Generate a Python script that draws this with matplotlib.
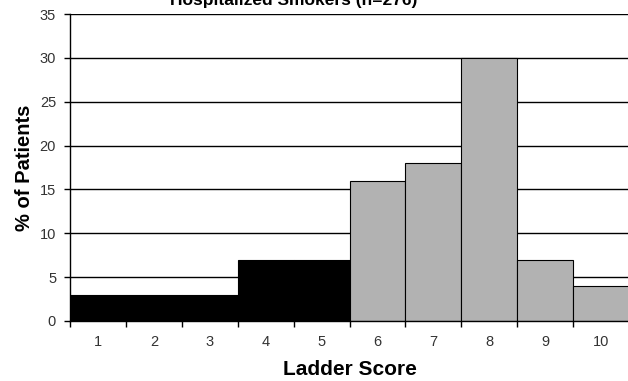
import matplotlib
matplotlib.use("Agg")
import matplotlib.pyplot as plt

# ----------------------------
# Data
# ----------------------------
scores = [1, 2, 3, 4, 5, 6, 7, 8, 9, 10]
pct_patients = [3, 3, 3, 7, 7, 16, 18, 30, 7, 4]
bar_colors = ["black"] * 5 + ["#b2b2b2"] * 5
y_ticks = [0, 5, 10, 15, 20, 25, 30, 35]

plt.rcParams["font.family"] = ["Liberation Sans", "DejaVu Sans"]

fig = plt.figure(figsize=(6.28, 3.81), dpi=100)
ax = fig.add_axes([70 / 628, 60 / 381, 559 / 628, 307 / 381])

# gridlines behind bars
ax.set_axisbelow(True)
ax.yaxis.grid(True, color="black", linewidth=1)

ax.bar(scores, pct_patients, width=1.0, color=bar_colors,
       edgecolor="black", linewidth=0.8, zorder=2)

ax.set_xlim(0.5, 10.5)
ax.set_ylim(0, 35)
ax.set_yticks(y_ticks)
ax.set_xticks(scores)
ax.set_xticks([s + 0.5 for s in [0] + scores[:-1]], minor=True)
ax.tick_params(axis="x", which="major", length=0, pad=10, labelsize=10.5, labelcolor="#333333")
ax.tick_params(axis="x", which="minor", length=4, direction="out", width=1)
ax.tick_params(axis="y", length=4, direction="out", width=1, pad=6, labelsize=10.5, labelcolor="#333333")

for side in ["top", "right"]:
    ax.spines[side].set_visible(False)
ax.spines["left"].set_linewidth(1)
ax.spines["bottom"].set_linewidth(1)

ax.set_xlabel("Ladder Score", fontsize=15, fontweight="bold", labelpad=8)
ax.set_ylabel("% of Patients", fontsize=14.5, fontweight="bold", labelpad=4)

# title is cropped at the top of the original image
fig.text(294 / 628, 1 - 5 / 381, "Hospitalized Smokers (n=276)", ha="center", va="baseline",
         fontsize=12.5, fontweight="bold")

plt.savefig("out.png", dpi=100)
plt.close()
